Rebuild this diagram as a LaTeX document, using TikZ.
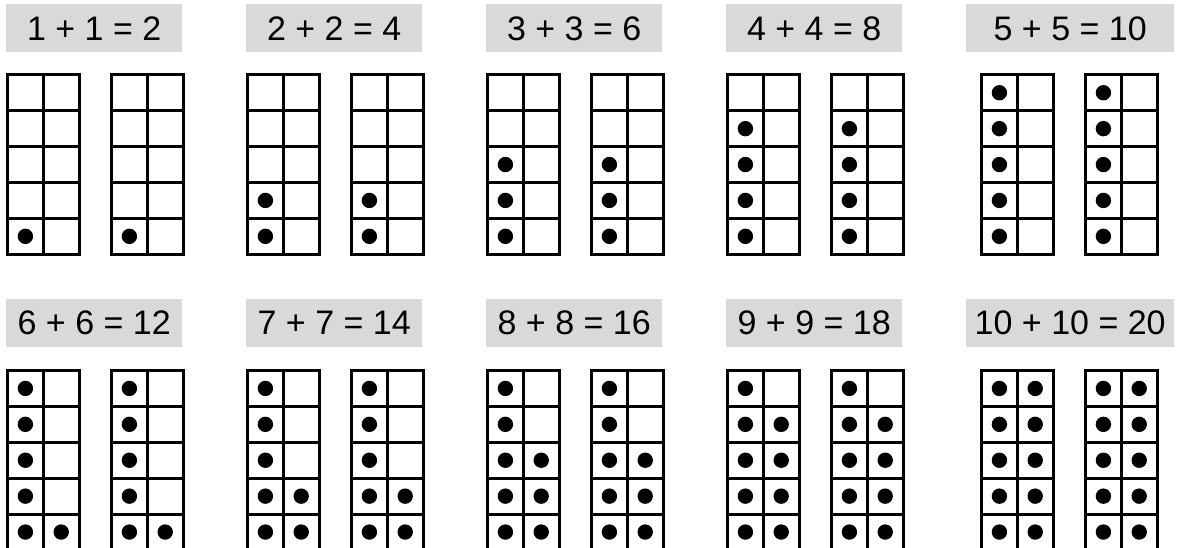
\documentclass[tikz,border=0pt]{standalone}
\usepackage{fontspec}
\setmainfont{Liberation Sans}
\usepackage{xcolor}
\definecolor{labelgray}{HTML}{D9D9D9}

\begin{document}
\begin{tikzpicture}[
  x=1pt,y=-1pt,
  sumlabel/.style={fill=labelgray,anchor=north west,inner sep=0pt,
                   minimum height=48pt,text depth=0pt,
                   font=\fontsize{34}{40}\selectfont},
  frame/.style={line width=3pt},
  counter/.style={fill=black},
]
  \useasboundingbox (0,0) rectangle (1177,548);

  % one sum with its two ten-frames per value
  \foreach \n in {1,...,10}{
    \pgfmathtruncatemacro{\col}{mod(\n-1,5)}
    \pgfmathtruncatemacro{\row}{(\n-1)/5}
    \pgfmathtruncatemacro{\total}{2*\n}
    \pgfmathsetmacro{\lx}{6+240*\col}
    \pgfmathsetmacro{\ly}{4+294.3*\row}
    \pgfmathsetmacro{\lw}{\col==4 ? 208 : 176}
    \pgfmathsetmacro{\gx}{\col==4 ? \lx+15.5 : \lx+1.5}
    \pgfmathsetmacro{\gy}{74.8+295.7*\row}

    \node[sumlabel,minimum width=\lw pt] (sum\n) at (\lx,\ly) {\n{} + \n{} = \total};

    \foreach \f in {0,1}{
      \begin{scope}[shift={(\gx+104*\f,\gy)}]
        \draw[frame] (0,0) rectangle (71.6,179.5);
        \draw[frame] (35.8,0) -- (35.8,179.5);
        \foreach \k in {1,...,4}
          \draw[frame] (0,35.9*\k) -- (71.6,35.9*\k);
        % counters fill the left column bottom-up, then the right one
        \foreach \d in {1,...,\n}{
          \pgfmathsetmacro{\dc}{\d>5 ? 1 : 0}
          \pgfmathsetmacro{\dr}{\d>5 ? 10-\d : 5-\d}
          \fill[counter] (17.9+35.8*\dc,17.95+35.9*\dr) circle[radius=7.7pt];
        }
      \end{scope}
    }
  }
\end{tikzpicture}
\end{document}
